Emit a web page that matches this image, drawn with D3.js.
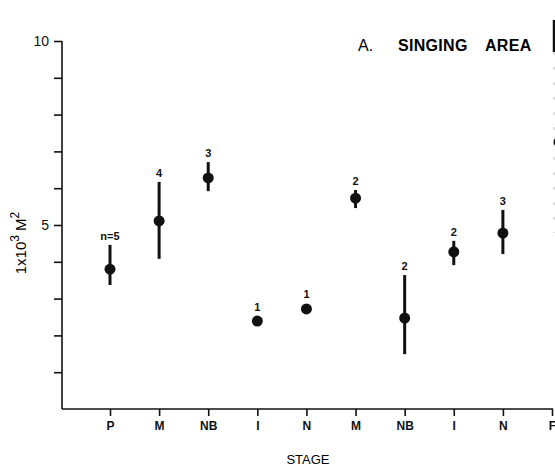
<!DOCTYPE html>
<html>
<head>
  <title>Singing Area by Stage</title>
  <script src="https://d3js.org/d3.v7.min.js"></script>
  <style>
    body {
      margin: 0;
      padding: 0;
      background: white;
      font-family: "Liberation Sans", Arial, sans-serif;
    }
    .axis line, .axis path {
      stroke: #111;
      stroke-width: 1.6px;
    }
    .axis text {
      fill: #111;
      font-size: 12px;
    }
    .bar {
      stroke: #111;
      stroke-width: 3px;
    }
    .nlabel {
      font-size: 11px;
      font-weight: bold;
      fill: #111;
    }
  </style>
</head>
<body>
  <div id="chart"></div>

  <script>
    // stages along the x axis (repeat M/NB/I/N for the second cycle)
    const stageIds = ['P', 'M1', 'NB1', 'I1', 'N1', 'M2', 'NB2', 'I2', 'N2', 'F'];
    const stageLabels = ['P', 'M', 'NB', 'I', 'N', 'M', 'NB', 'I', 'N', 'F'];

    // mean singing area (x10^3 m^2) and range for each plotted stage
    const pointStages = ['P', 'M1', 'NB1', 'I1', 'N1', 'M2', 'NB2', 'I2', 'N2'];
    const means = [3.80, 5.11, 6.28, 2.39, 2.72, 5.73, 2.47, 4.27, 4.78];
    const lows  = [3.37, 4.08, 5.92, null, null, 5.46, 1.49, 3.91, 4.21];
    const highs = [4.46, 6.17, 6.71, null, null, 5.95, 3.64, 4.57, 5.41];
    const sampleLabels = ['n=5', '4', '3', '1', '1', '2', '2', '2', '3'];

    const yTicks = [1, 2, 3, 4, 5, 6, 7, 8, 9, 10];
    const yTickLabels = { 5: '5', 10: '10' };

    const width = 555, height = 469;
    const svg = d3.select('#chart').append('svg')
      .attr('width', width)
      .attr('height', height);

    const x = d3.scalePoint().domain(stageIds).range([110, 552]);
    const y = d3.scaleLinear().domain([0, 10]).range([409, 41]);

    // y axis
    const yAxis = d3.axisLeft(y)
      .tickValues(yTicks)
      .tickSize(8)
      .tickPadding(5)
      .tickFormat(d => yTickLabels[d] || '');
    svg.append('g')
      .attr('class', 'axis')
      .attr('transform', 'translate(62,0)')
      .call(yAxis)
      .call(g => g.select('.domain').attr('d', `M0,${y(10)}V${y(0)}`))
      .call(g => g.selectAll('text').style('font-size', '14px'));

    // x axis
    const xAxis = d3.axisBottom(x)
      .tickSize(7)
      .tickPadding(5)
      .tickFormat((d, i) => stageLabels[i]);
    svg.append('g')
      .attr('class', 'axis')
      .attr('transform', `translate(0,${y(0)})`)
      .call(xAxis)
      .call(g => g.select('.domain').attr('d', `M62,0H553`))
      .call(g => g.selectAll('text').style('font-weight', 'bold').style('font-size', '12px'));

    // axis titles
    svg.append('text')
      .attr('x', 308)
      .attr('y', 464)
      .attr('text-anchor', 'middle')
      .style('font-size', '13px')
      .text('STAGE');

    const ylab = svg.append('text')
      .attr('transform', 'translate(26,243) rotate(-90)')
      .attr('text-anchor', 'middle')
      .style('font-size', '15px');
    ylab.append('tspan').text('1x10');
    ylab.append('tspan').attr('dy', -7).style('font-size', '12px').text('3');
    ylab.append('tspan').attr('dy', 7).text(' M');
    ylab.append('tspan').attr('dy', -7).style('font-size', '12px').text('2');

    // title
    svg.append('text')
      .attr('x', 358)
      .attr('y', 51)
      .style('font-size', '16px')
      .text('A.');
    svg.append('text')
      .attr('x', 398)
      .attr('y', 51)
      .style('font-size', '16px')
      .style('font-weight', 'bold')
      .style('letter-spacing', '0.3px')
      .text('SINGING');
    svg.append('text')
      .attr('x', 485)
      .attr('y', 51)
      .style('font-size', '16px')
      .style('font-weight', 'bold')
      .style('letter-spacing', '0.3px')
      .text('AREA');

    // edge of the next panel
    svg.append('line')
      .attr('x1', 554).attr('x2', 554)
      .attr('y1', 20).attr('y2', 52)
      .attr('stroke', '#111').attr('stroke-width', 2.5);
    svg.append('line')
      .attr('x1', 554).attr('x2', 554)
      .attr('y1', 52).attr('y2', 233)
      .attr('stroke', '#bbb').attr('stroke-width', 1)
      .attr('stroke-dasharray', '3,12');
    svg.append('circle')
      .attr('cx', 559).attr('cy', 142).attr('r', 5.5)
      .attr('fill', '#111');

    const points = pointStages.map((s, i) => ({
      stage: s, mean: means[i], lo: lows[i], hi: highs[i], n: sampleLabels[i]
    }));

    const g = svg.append('g');

    g.selectAll('.bar')
      .data(points.filter(d => d.lo !== null))
      .join('line')
      .attr('class', 'bar')
      .attr('x1', d => x(d.stage))
      .attr('x2', d => x(d.stage))
      .attr('y1', d => y(d.hi))
      .attr('y2', d => y(d.lo));

    g.selectAll('circle.dot')
      .data(points)
      .join('circle')
      .attr('class', 'dot')
      .attr('cx', d => x(d.stage))
      .attr('cy', d => y(d.mean))
      .attr('r', 5.5)
      .attr('fill', '#111');

    g.selectAll('.nlabel')
      .data(points)
      .join('text')
      .attr('class', 'nlabel')
      .attr('x', d => x(d.stage))
      .attr('y', d => (d.hi !== null ? y(d.hi) : y(d.mean) - 5.5) - 5)
      .attr('text-anchor', 'middle')
      .text(d => d.n);
  </script>
</body>
</html>
